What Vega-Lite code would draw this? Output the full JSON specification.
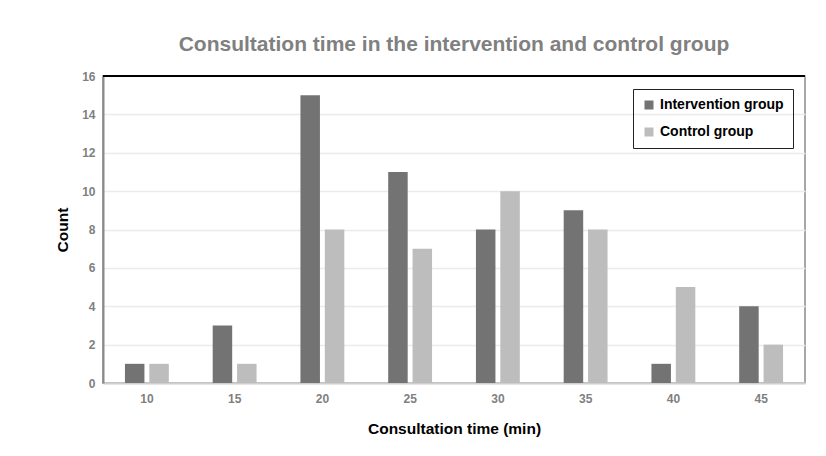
{
  "$schema": "https://vega.github.io/schema/vega-lite/v6.json",
  "autosize": "none",
  "width": 702,
  "height": 307,
  "padding": {"left": 103, "top": 76, "right": 21, "bottom": 73},
  "background": "white",
  "title": {
    "text": "Consultation time in the intervention and control group",
    "fontSize": 21,
    "font": "Liberation Sans",
    "fontWeight": "bold",
    "color": "#808080",
    "anchor": "middle",
    "offset": 15
  },
  "config": {
    "font": "Liberation Sans",
    "view": {"stroke": "#8a8a8a", "strokeWidth": 1.5}
  },
  "data": {
    "values": [
      {"time": "10", "group": "Intervention group", "count": 1},
      {"time": "10", "group": "Control group", "count": 1},
      {"time": "15", "group": "Intervention group", "count": 3},
      {"time": "15", "group": "Control group", "count": 1},
      {"time": "20", "group": "Intervention group", "count": 15},
      {"time": "20", "group": "Control group", "count": 8},
      {"time": "25", "group": "Intervention group", "count": 11},
      {"time": "25", "group": "Control group", "count": 7},
      {"time": "30", "group": "Intervention group", "count": 8},
      {"time": "30", "group": "Control group", "count": 10},
      {"time": "35", "group": "Intervention group", "count": 9},
      {"time": "35", "group": "Control group", "count": 8},
      {"time": "40", "group": "Intervention group", "count": 1},
      {"time": "40", "group": "Control group", "count": 5},
      {"time": "45", "group": "Intervention group", "count": 4},
      {"time": "45", "group": "Control group", "count": 2}
    ]
  },
  "layer": [
    {
      "mark": {"type": "bar"},
      "encoding": {
        "x": {
          "field": "time",
          "type": "ordinal",
          "sort": ["10", "15", "20", "25", "30", "35", "40", "45"],
          "scale": {"paddingInner": 0.5, "paddingOuter": 0.25},
          "axis": {
            "title": "Consultation time (min)",
            "titleFontSize": 15.5,
            "titleFontWeight": "bold",
            "titleColor": "black",
            "titlePadding": 17,
            "labelAngle": 0,
            "labelFontSize": 12,
            "labelFontWeight": "bold",
            "labelColor": "#7f7f7f",
            "labelPadding": 10,
            "ticks": false,
            "domainColor": "#cfcfcf",
            "domainWidth": 2
          }
        },
        "xOffset": {
          "field": "group",
          "type": "nominal",
          "sort": ["Intervention group", "Control group"],
          "scale": {"paddingInner": 0.2}
        },
        "y": {
          "field": "count",
          "type": "quantitative",
          "scale": {"domain": [0, 16]},
          "axis": {
            "title": "Count",
            "titleFontSize": 15.5,
            "titleFontWeight": "bold",
            "titleColor": "black",
            "titlePadding": 11,
            "values": [0, 2, 4, 6, 8, 10, 12, 14, 16],
            "labelOverlap": false,
            "labelFontSize": 12,
            "labelFontWeight": "bold",
            "labelColor": "#7f7f7f",
            "labelPadding": 8,
            "ticks": false,
            "domainColor": "#8a8a8a",
            "domainWidth": 2,
            "gridColor": "#ebebeb",
            "gridWidth": 1.5
          }
        },
        "color": {
          "field": "group",
          "type": "nominal",
          "sort": ["Intervention group", "Control group"],
          "scale": {
            "domain": ["Intervention group", "Control group"],
            "range": ["#737373", "#bdbdbd"]
          },
          "legend": {
            "title": null,
            "orient": "none",
            "legendX": 530,
            "legendY": 13,
            "strokeColor": "#222222",
            "padding": 9,
            "symbolType": "square",
            "symbolSize": 81,
            "symbolStrokeWidth": 0,
            "labelFontSize": 14,
            "labelFontWeight": "bold",
            "labelColor": "black",
            "labelOffset": 4,
            "rowPadding": 13
          }
        }
      }
    },
    {
      "mark": {"type": "rule", "color": "black", "strokeWidth": 1.5},
      "encoding": {
        "y": {
          "datum": 16,
          "type": "quantitative",
          "scale": {"domain": [0, 16]},
          "axis": {
            "title": "Count",
            "titleFontSize": 15.5,
            "titleFontWeight": "bold",
            "titleColor": "black",
            "titlePadding": 11,
            "values": [0, 2, 4, 6, 8, 10, 12, 14, 16],
            "labelOverlap": false,
            "labelFontSize": 12,
            "labelFontWeight": "bold",
            "labelColor": "#7f7f7f",
            "labelPadding": 8,
            "ticks": false,
            "domainColor": "#8a8a8a",
            "domainWidth": 2,
            "gridColor": "#ebebeb",
            "gridWidth": 1.5
          }
        }
      }
    }
  ]
}
